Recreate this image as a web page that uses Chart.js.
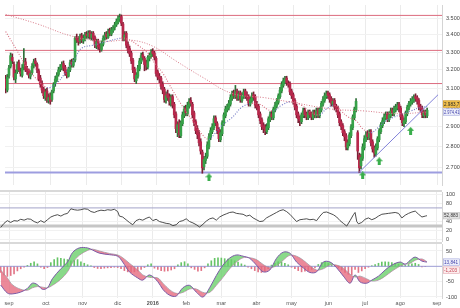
<!DOCTYPE html>
<html><head><meta charset="utf-8">
<script src="https://cdn.jsdelivr.net/npm/chart.js@4.4.1/dist/chart.umd.min.js"></script>
<style>
html,body{margin:0;padding:0;background:#fff;}
#wrap{position:relative;width:460px;height:308px;overflow:hidden;background:#fff;}
canvas{position:absolute;left:0;}
.sep{position:absolute;left:0;width:442px;height:2px;background:#d9d9d9;}
</style></head><body>
<div id="wrap">
<canvas id="cPrice" width="460" height="190" style="top:0"></canvas>
<div class="sep" style="top:190px"></div>
<canvas id="cRsi" width="460" height="50" style="top:192px"></canvas>
<div class="sep" style="top:242px"></div>
<canvas id="cMacd" width="460" height="64" style="top:244px"></canvas>
</div>
<script>
// ---------- data ----------
const monthDays = [0,22,44,65,86,106,127,148,169,191,213,234,256];
const monthLabels = ['sep','oct','nov','dic','2016','feb','mar','abr','may','jun','jul','ago','sep'];
const priceTicks = [2700,2800,2900,3000,3100,3200,3300,3400,3500];
const rsiTicks = [0,20,40,80,100];
const macdTicks = [-100,-50,50];

const candleStartDay = -5;
const opens = [3150,3090,3170,3220,3270,
3230,3150,3190,3240,3190,3170,3215,3245,3205,3195,
3165,3185,3225,3250,3230,3195,3155,3125,3095,3050,
3085,3035,3060,3040,3085,3125,3145,3175,3205,3210,
3235,3215,3185,3165,3200,3245,3225,3255,3385,3375,
3365,3395,3365,3375,3405,3390,3415,3385,3410,3385,
3335,3365,3335,3315,3345,3385,3405,3385,3425,3405,
3425,3445,3460,3475,3495,3510,3465,3375,3410,3345,
3320,3295,3255,3205,3140,3165,3205,3245,3285,3265,
3240,3215,3265,3275,3305,3295,3265,3190,3165,3155,
3120,3095,3035,3070,3055,3020,3055,3015,2965,2870,
2920,2855,2915,2955,2995,2965,3005,3035,3015,2970,
2925,2890,2865,2825,2775,2705,2735,2755,2800,2845,
2875,2895,2945,2915,2885,2835,2865,2915,2955,2985,
2995,3015,3045,3075,3055,3085,3045,3075,3035,3055,
3085,3065,3055,3015,3035,3065,3055,3015,3005,2965,
2935,2905,2895,2875,2895,2935,2965,2945,2985,3005,
3025,3055,3085,3115,3135,3155,3125,3125,3085,3065,
3035,3005,2965,2945,2925,2955,2985,2965,2945,2975,
2965,2945,2975,2955,2985,2955,2985,3015,3035,3055,
3075,3065,3045,3015,3035,3005,2995,2965,2925,2905,
2875,2855,2795,2815,2855,2895,2945,2985,2870,2760,
2710,2745,2795,2835,2865,2845,2875,2825,2795,2765,
2795,2835,2875,2905,2925,2945,2965,2935,2955,2985,
2965,2985,2995,3015,2995,2955,2915,2925,2965,2995,
3015,3025,3035,3055,3050,3035,3005,2995,2955,2975,2955];
const highs = [3170,3175,3225,3295,3290,
3245,3200,3245,3255,3210,3230,3320,3265,3220,3205,
3195,3235,3260,3265,3240,3205,3170,3140,3105,3095,
3100,3070,3075,3090,3130,3165,3185,3215,3230,3245,
3250,3225,3200,3215,3255,3260,3265,3390,3405,3390,
3405,3410,3400,3415,3420,3425,3425,3420,3420,3395,
3375,3375,3350,3365,3395,3415,3420,3435,3440,3445,
3455,3475,3495,3515,3525,3520,3475,3420,3420,3360,
3335,3305,3265,3215,3185,3225,3265,3295,3300,3275,
3255,3280,3295,3315,3320,3305,3275,3200,3180,3165,
3135,3105,3080,3090,3070,3065,3065,3025,2975,2925,
2935,2930,2975,3005,3010,3025,3045,3050,3025,2980,
2935,2905,2880,2840,2785,2755,2770,2825,2865,2895,
2915,2955,2955,2925,2895,2885,2930,2970,3005,3015,
3035,3065,3085,3090,3115,3095,3085,3085,3075,3095,
3095,3080,3065,3055,3075,3080,3065,3030,3015,2975,
2945,2920,2910,2915,2950,2975,2980,3000,3025,3045,
3070,3105,3135,3155,3165,3165,3140,3135,3095,3075,
3045,3015,2975,2955,2970,2995,2995,2975,2985,2985,
2975,2985,2985,2995,2995,3000,3030,3055,3075,3085,
3085,3075,3055,3045,3045,3015,3005,2975,2935,2915,
2885,2865,2835,2870,2910,2960,3000,3045,2880,2770,
2765,2815,2855,2875,2880,2885,2885,2835,2805,2815,
2850,2890,2920,2945,2965,2975,2975,2975,2995,2995,
3005,3015,3025,3025,3005,2965,2945,2980,3010,3030,
3045,3055,3065,3070,3060,3045,3015,3005,2985,2985,2995];
const lows = [3075,3080,3155,3210,3235,
3145,3130,3180,3190,3165,3160,3200,3190,3175,3155,
3150,3175,3210,3220,3185,3140,3105,3075,3045,3035,
3025,3020,3015,3030,3075,3110,3135,3165,3190,3200,
3195,3170,3155,3160,3190,3215,3215,3245,3355,3340,
3350,3355,3350,3365,3380,3380,3375,3370,3365,3325,
3320,3315,3300,3305,3335,3370,3375,3380,3395,3395,
3415,3430,3450,3465,3480,3455,3365,3365,3325,3295,
3275,3235,3185,3135,3125,3155,3195,3235,3255,3195,
3200,3205,3250,3265,3275,3255,3165,3145,3130,3095,
3070,3025,3020,3035,3010,3005,2995,2945,2870,2850,
2845,2845,2905,2945,2955,2955,2995,3005,2945,2905,
2865,2840,2805,2765,2675,2690,2720,2745,2790,2835,
2865,2885,2905,2865,2825,2825,2855,2905,2945,2975,
2985,3005,3035,3045,3045,3035,3035,3025,3025,3045,
3045,3035,3005,3005,3025,3035,2995,2985,2945,2915,
2885,2870,2860,2865,2885,2925,2935,2935,2975,2995,
3015,3045,3075,3105,3125,3115,3105,3065,3045,3015,
2985,2945,2920,2905,2915,2945,2945,2935,2935,2945,
2935,2935,2945,2945,2945,2945,2975,3005,3025,3045,
3045,3025,3005,3005,2985,2975,2945,2905,2885,2855,
2830,2785,2785,2805,2845,2885,2935,2975,2740,2678,
2695,2735,2785,2825,2835,2835,2805,2775,2750,2755,
2785,2825,2865,2895,2915,2935,2925,2925,2945,2955,
2955,2975,2985,2975,2935,2905,2900,2915,2955,2985,
3005,3015,3025,3030,3015,2985,2975,2945,2945,2945,2945];
const closes = [3100,3160,3210,3280,3250,
3160,3180,3230,3200,3180,3210,3240,3200,3190,3170,
3180,3220,3245,3235,3200,3150,3120,3090,3060,3080,
3040,3050,3030,3080,3120,3150,3170,3200,3215,3230,
3210,3180,3170,3205,3240,3230,3250,3380,3370,3360,
3390,3370,3380,3400,3395,3410,3390,3405,3380,3340,
3360,3330,3320,3350,3380,3400,3390,3420,3410,3430,
3440,3460,3480,3500,3505,3470,3380,3400,3340,3310,
3290,3250,3200,3150,3170,3210,3250,3280,3270,3230,
3220,3270,3280,3300,3290,3270,3180,3160,3150,3110,
3090,3040,3060,3050,3030,3050,3010,2960,2890,2910,
2860,2920,2960,2990,2970,3010,3030,3020,2960,2920,
2880,2860,2820,2780,2700,2740,2750,2810,2850,2880,
2900,2940,2920,2880,2840,2870,2920,2960,2990,3000,
3020,3050,3070,3060,3080,3050,3070,3040,3060,3080,
3060,3050,3020,3040,3060,3050,3010,3000,2960,2930,
2900,2890,2880,2900,2940,2960,2950,2990,3010,3030,
3060,3090,3120,3140,3150,3130,3120,3080,3060,3030,
3000,2960,2940,2930,2960,2980,2960,2950,2970,2960,
2950,2970,2960,2980,2960,2990,3020,3040,3060,3070,
3060,3040,3020,3030,3000,2990,2960,2920,2900,2870,
2850,2800,2820,2860,2900,2950,2990,3030,2780,2700,
2750,2800,2840,2860,2850,2870,2820,2790,2770,2800,
2840,2880,2910,2930,2950,2960,2940,2960,2980,2970,
2990,3000,3010,2990,2950,2920,2930,2970,3000,3020,
3030,3040,3050,3045,3030,3000,2990,2960,2970,2960,2983.7];

const resistanceLevels = [3517,3310,3125];
const supportLevels = [2678];
const trendDays = [208.7,256.6];
const trendPrices = [2678,3065];
const longMaDays = [-5,14,35,54,71,84,98,114,132,152,172,192,212,232,250];
const longMaValues = [3523,3466,3393,3363,3369,3334,3250,3160,3072,3049,3019,2990,2980,2966,2974.41];
const shortMaDays = [-5,1,7,13,20,25,31,37,41,48,57,65,69,75,81,86,90,96,102,108,114,118,121,126,132,138,144,149,153,157,162,168,174,180,185,189,194,198,202,207,211,216,221,225,229,234,240,246,250];
const shortMaValues = [3420,3323,3227,3156,3104,3120,3183,3265,3323,3340,3363,3381,3375,3340,3294,3227,3183,3089,3004,2932,2860,2837,2860,2907,2946,3000,3019,3014,2990,2980,3010,3029,3010,2971,2961,2990,3010,2980,2950,2930,2890,2870,2900,2930,2945,2962,2980,2998,3003];
const signalArrowDays = [118,211,221,240];
const signalArrowPrices = [2656,2665,2731,2879];

const rsiDays = [-5,-3,-1,1,3,5,7,9,11,13,15,17,19,21,23,25,27,29,31,33,35,37,39,41,43,45,47,49,51,53,55,57,59,61,63,65,66,68,70,72,74,76,78,80,82,84,86,88,90,92,94,96,98,100,102,104,106,108,110,112,114,116,118,120,122,124,126,128,130,132,134,136,138,140,142,144,146,148,150,152,154,156,158,160,162,164,166,168,170,172,174,176,178,180,182,184,186,188,190,192,194,196,198,200,202,204,206,207,208,209,211,213,215,217,219,221,223,225,227,229,231,233,235,237,239,241,243,245,247,249,250];
const rsiValues = [27,36,42,38,42,41,45,43,46,45,40,37,42,38,44,50,53,55,52,56,58,68,66,65,66,68,67,62,60,63,65,64,66,65,67,62,52,50,44,38,33,42,45,43,47,50,42,45,40,38,36,35,31,33,40,42,46,40,37,33,28,34,41,46,48,43,50,54,57,60,61,58,57,56,52,54,48,44,40,41,48,52,56,60,64,66,62,56,48,40,44,45,46,44,45,42,52,60,61,58,55,50,42,36,30,42,55,60,40,35,38,45,48,44,47,52,56,57,58,59,60,58,48,54,58,61,63,56,50,52,52.883];
const rsiLevels = [70,30];

const macdDays = [-5,-1,2,7,11,14,17,20,23,26,31,35,38,42,47,50,54,60,65,68,72,77,80,84,89,92,96,100,104,108,112,116,120,124,128,132,136,140,144,148,152,156,160,164,168,172,176,180,184,188,192,196,200,204,207,210,214,217,221,225,229,234,237,240,243,247,250];
const macdValues = [-61,-87,-90,-84,-72,-55,-60,-75,-70,-40,-8,14,45,60,60,53,43,38,33,14,-18,-38,-45,-28,-50,-75,-94,-97,-70,-62,-84,-100,-70,-30,4,27,37,33,26,4,-18,-12,26,46,43,14,-5,-20,-18,14,14,-5,-32,-55,-28,-51,-55,-45,-32,-12,4,14,7,20,30,17,13.841];
const signalValues = [-12,-38,-60,-75,-78,-70,-66,-68,-70,-62,-42,-18,12,36,52,56,50,42,37,28,10,-12,-28,-36,-38,-55,-76,-88,-85,-74,-74,-85,-85,-62,-36,-8,14,28,28,22,6,-4,2,20,36,33,20,2,-12,-8,4,4,-6,-26,-35,-32,-41,-48,-45,-32,-16,1,7,10,20,24,15.044];
const histStartDay = -5, histStep = 2;
const histValues = [-20,-28,-33,-30,-25,-15,-8,-3,3,10,
15,8,-3,-8,-4,12,22,28,26,24,
22,18,20,22,15,10,5,2,-4,-7,
-8,-6,-5,-4,-3,-4,-8,-14,-18,-20,
-18,-15,-10,-4,5,8,-6,-10,-14,-16,
-15,-12,-8,5,12,15,8,-5,-10,-16,
-14,-5,8,18,26,28,27,25,24,22,
18,14,8,4,-3,-8,-14,-18,-20,-16,
-8,4,10,15,14,10,5,-3,-8,-14,
-18,-16,-14,-10,-5,6,12,15,10,5,
2,-6,-12,-20,-26,-28,-10,-20,-15,-8,
-3,2,6,10,14,15,14,12,10,7,
4,3,6,8,10,6,-2,-1.2];

// ---------- helpers ----------
const X_MIN = -5.4, X_MAX = 259;
const FONT = "'Liberation Sans', Arial, sans-serif";
function fmtEs(v, dec){
  let s = Number(v).toFixed(dec);
  let neg = s.startsWith('-'); if (neg) s = s.slice(1);
  let [i, d] = s.split('.');
  i = i.replace(/\B(?=(\d{3})+(?!\d))/g, '.');
  return (neg ? '-' : '') + i + (d ? ',' + d : '');
}
function xAxis(showLabels){
  return {
    type:'linear', min:X_MIN, max:X_MAX, offset:false,
    grid:{color:'#ebebeb', lineWidth:1, drawTicks:false, offset:false},
    border:{display:false},
    ticks:{display:showLabels, autoSkip:false, maxRotation:0, minRotation:0, padding:2, color:'#555',
      font: c => ({family:FONT, size:5.5, weight: (c.index === 4) ? 'bold' : 'normal'}),
      callback:(v,i) => monthLabels[i]},
    afterBuildTicks: s => { s.ticks = monthDays.map(v => ({value:v})); },
    afterFit: s => { s.height = showLabels ? 10 : 0; s.paddingLeft = 0; s.paddingRight = 0; }
  };
}
function yAxis(type, min, max, ticks, fmt){
  return {
    type, position:'right', min, max, beginAtZero:false,
    grid:{color:'#f1f1f1', drawTicks:false},
    border:{display:true, color:'#d4d4d4'},
    ticks:{autoSkip:false, padding:4, color:'#444', font:{family:FONT, size:5.5}, callback: v => fmt(v)},
    afterBuildTicks: s => { s.ticks = ticks.map(v => ({value:v})); },
    afterFit: s => { s.width = 18; s.paddingTop = 0; s.paddingBottom = 0; }
  };
}
function drawBox(ctx, x, yc, w, h, text, fill, stroke, color){
  ctx.save();
  ctx.fillStyle = fill; ctx.fillRect(x, yc - h/2, w, h);
  if (stroke){ ctx.strokeStyle = stroke; ctx.lineWidth = 0.6; ctx.strokeRect(x + 0.3, yc - h/2 + 0.3, w - 0.6, h - 0.6); }
  ctx.fillStyle = color; ctx.font = '4.6px ' + FONT; ctx.textBaseline = 'middle'; ctx.textAlign = 'left';
  ctx.fillText(text, x + 1, yc + 0.5, w - 1.5);
  ctx.restore();
}
const baseOpts = {
  responsive:false, animation:false, devicePixelRatio:1,
  layout:{padding:0},
  plugins:{legend:{display:false}, tooltip:{enabled:false}}
};

// arrow marker
const arrowImg = document.createElement('canvas');
arrowImg.width = 7; arrowImg.height = 8;
(function(){
  const c = arrowImg.getContext('2d');
  c.fillStyle = '#3aae4c';
  c.beginPath(); c.moveTo(3.5,0); c.lineTo(7,4); c.lineTo(5,4); c.lineTo(5,8); c.lineTo(2,8); c.lineTo(2,4); c.lineTo(0,4); c.closePath(); c.fill();
})();

const GREEN = '#36a148', RED = '#b8284c';
const hLine = (y, color, w) => ({type:'line', data:[{x:X_MIN,y},{x:X_MAX,y}], borderColor:color, borderWidth:w, pointRadius:0, order:6});

// ---------- price chart ----------
const priceBoxes = {
  id:'priceBoxes',
  afterDraw(chart){
    const y = chart.scales.y, ctx = chart.ctx, x0 = chart.chartArea.right + 1;
    const lastC = closes[closes.length - 1], lastM = longMaValues[longMaValues.length - 1];
    const y2 = y.getPixelForValue(lastM);
    const y1 = Math.min(y.getPixelForValue(lastC), y2 - 8);
    drawBox(ctx, x0, y1, 17, 7, fmtEs(lastC, 1), '#f2c14e', '#c9952a', '#222');
    drawBox(ctx, x0, y2, 17, 7, fmtEs(lastM, 2), '#eef0fb', '#a4a8dc', '#3c3ca8');
  }
};
new Chart(document.getElementById('cPrice'), {
  type:'bar',
  data:{datasets:[
    ...resistanceLevels.map(l => hLine(l, '#dc6b7e', 1)),
    ...supportLevels.map(l => hLine(l, '#9d9de0', 2)),
    {type:'bar', data: opens.map((o,i) => ({x:candleStartDay + i, y:[lows[i], highs[i]]})),
     backgroundColor: opens.map((o,i) => closes[i] >= o ? '#2f6f38' : '#7a2035'),
     barThickness:1, grouped:false, order:5},
    {type:'bar', data: opens.map((o,i) => ({x:candleStartDay + i, y:[o, closes[i]]})),
     backgroundColor: opens.map((o,i) => closes[i] >= o ? GREEN : RED),
     barThickness:2, grouped:false, order:4},
    {type:'line', data: longMaDays.map((d,i) => ({x:d, y:longMaValues[i]})), borderColor:'#d77a88', borderWidth:1,
     borderDash:[1,1.6], pointRadius:0, tension:0.4, order:3},
    {type:'line', data: shortMaDays.map((d,i) => ({x:d, y:shortMaValues[i]})), borderWidth:1.1,
     borderDash:[1,1.6], pointRadius:0, tension:0.4, order:3, borderColor:'#7379c4',
     segment:{borderColor: c => c.p1.parsed.y >= c.p0.parsed.y ? '#7379c4' : '#d86f80'}},
    {type:'line', data: trendDays.map((d,i) => ({x:d, y:trendPrices[i]})), borderColor:'#8181d9', borderWidth:1, pointRadius:0, order:2},
    {type:'line', data: signalArrowDays.map((d,i) => ({x:d, y:signalArrowPrices[i]})), showLine:false,
     pointStyle:arrowImg, pointRadius:4, order:1}
  ]},
  options:{...baseOpts, scales:{x:xAxis(false), y:yAxis('logarithmic', 2621, 3581, priceTicks, v => fmtEs(v,0))}},
  plugins:[priceBoxes]
});

// ---------- RSI chart ----------
const rsiBox = {
  id:'rsiBox',
  afterDraw(chart){
    const y = chart.scales.y, v = rsiValues[rsiValues.length - 1];
    drawBox(chart.ctx, chart.chartArea.right + 1, y.getPixelForValue(v), 17, 7, fmtEs(v,3), '#e2e2e2', '#c4c4c4', '#333');
  }
};
new Chart(document.getElementById('cRsi'), {
  type:'line',
  data:{datasets:[
    {data:[{x:X_MIN,y:rsiLevels[0]},{x:X_MAX,y:rsiLevels[0]}], borderColor:'#a2a2c8', borderWidth:1, pointRadius:0, order:3},
    {data:[{x:X_MIN,y:rsiLevels[1]},{x:X_MAX,y:rsiLevels[1]}], borderColor:'#c6c6c6', borderWidth:3, pointRadius:0, order:3},
    {data: rsiDays.map((d,i) => ({x:d, y:rsiValues[i]})), borderColor:'#3a3a3a', borderWidth:0.9, pointRadius:0, order:1}
  ]},
  options:{...baseOpts, scales:{x:xAxis(false), y:yAxis('linear', -5, 105, rsiTicks, v => fmtEs(v,0))}},
  plugins:[rsiBox]
});

// ---------- MACD chart ----------
const macdBoxes = {
  id:'macdBoxes',
  afterDraw(chart){
    const y = chart.scales.y, x0 = chart.chartArea.right + 1;
    const m = macdValues[macdValues.length - 1], s = signalValues[signalValues.length - 1], h = m - s;
    const y1 = y.getPixelForValue(m);
    const y2 = Math.max(y.getPixelForValue(h), y1 + 8);
    drawBox(chart.ctx, x0, y1, 17, 7, fmtEs(m,3), '#eef0fb', '#a4a8dc', '#3c3ca8');
    drawBox(chart.ctx, x0, y2, 17, 7, fmtEs(h,3), '#fcefef', '#e2a4ac', '#c33a4c');
  }
};
new Chart(document.getElementById('cMacd'), {
  type:'bar',
  data:{datasets:[
    {type:'line', data: macdDays.map((d,i) => ({x:d, y:macdValues[i]})), borderColor:'#7b5aa6', borderWidth:1, pointRadius:0,
     tension:0.35, fill:{target:1, above:'rgba(104,206,104,0.78)', below:'rgba(229,104,124,0.78)'}, order:1},
    {type:'line', data: macdDays.map((d,i) => ({x:d, y:signalValues[i]})), borderColor:'#a98fb3', borderWidth:0.8, pointRadius:0,
     tension:0.35, order:2},
    {type:'line', data:[{x:X_MIN,y:0},{x:X_MAX,y:0}], borderColor:'#9c9cd4', borderWidth:1, pointRadius:0, order:3},
    {type:'bar', data: histValues.map((v,i) => ({x:histStartDay + i*histStep, y:v})),
     backgroundColor: histValues.map(v => v >= 0 ? '#66c566' : '#e27587'), barThickness:1, grouped:false, order:4}
  ]},
  options:{...baseOpts, scales:{x:xAxis(true), y:yAxis('linear', -103.3, 72.8, macdTicks, v => fmtEs(v,0))}},
  plugins:[macdBoxes]
});
</script>
</body></html>
